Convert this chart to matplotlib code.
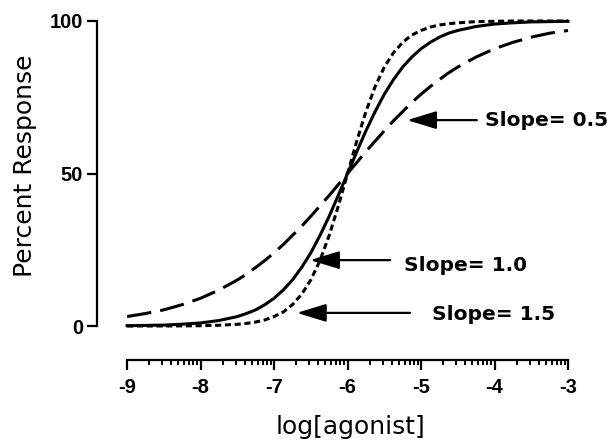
import matplotlib
matplotlib.use("Agg")
import matplotlib.pyplot as plt
import matplotlib.ticker as tck
import numpy as np

# Values (percent response vs log[agonist]).
log_agonist = [-9.0, -8.75, -8.5, -8.25, -8.0, -7.75, -7.5, -7.375, -7.25, -7.125,
               -7.0, -6.875, -6.75, -6.625, -6.5, -6.375, -6.25, -6.125, -6.0,
               -5.875, -5.75, -5.625, -5.5, -5.375, -5.25, -5.125, -5.0,
               -4.875, -4.75, -4.625, -4.5, -4.25, -4.0, -3.75, -3.5, -3.25, -3.0]
resp_slope_05 = [3.1, 4.1, 5.3, 7.0, 9.1, 11.8, 15.1, 17.0, 19.2, 21.5,
                 24.0, 26.7, 29.7, 32.7, 36.0, 39.4, 42.8, 46.4, 50.0,
                 53.6, 57.2, 60.6, 64.0, 67.3, 70.3, 73.3, 76.0,
                 78.5, 80.8, 83.0, 84.9, 88.2, 90.9, 93.0, 94.7, 96.0, 96.9]
resp_slope_10 = [0.1, 0.2, 0.3, 0.6, 1.0, 1.8, 3.1, 4.1, 5.3, 7.0,
                 9.1, 11.8, 15.1, 19.2, 24.0, 29.7, 36.0, 42.9, 50.0,
                 57.1, 64.0, 70.3, 76.0, 80.8, 84.9, 88.2, 90.9,
                 93.0, 94.7, 96.0, 96.9, 98.2, 99.0, 99.4, 99.7, 99.8, 99.9]
resp_slope_15 = [0.0, 0.0, 0.0, 0.04, 0.1, 0.24, 0.56, 0.86, 1.3, 2.0,
                 3.1, 4.6, 7.0, 10.4, 15.1, 21.5, 29.7, 39.4, 50.0,
                 60.6, 70.3, 78.5, 84.9, 89.6, 93.0, 95.4, 96.9,
                 98.0, 98.7, 99.1, 99.4, 99.8, 99.9, 100.0, 100.0, 100.0, 100.0]
x_ticks = [-9, -8, -7, -6, -5, -4, -3]
y_ticks = [0, 50, 100]

fig = plt.figure(figsize=(6.09, 4.41), dpi=100)
ax = fig.add_axes([97 / 609, 1 - 326 / 441, 471 / 609, 305 / 441])

lw = 2.2
ax.plot(log_agonist, resp_slope_05, color="black", lw=lw, dashes=(8, 3), clip_on=False)
ax.plot(log_agonist, resp_slope_10, color="black", lw=lw, clip_on=False)
ax.plot(log_agonist, resp_slope_15, color="black", lw=lw, dashes=(2, 1.2), clip_on=False)

ax.set_xlim(-9.41, -3)
ax.set_ylim(0, 100)

# Spines: left axis plain, bottom axis pushed down and limited to the data range
for side in ("top", "right"):
    ax.spines[side].set_visible(False)
ax.spines["left"].set_linewidth(1.6)
ax.spines["bottom"].set_linewidth(1.6)
ax.spines["bottom"].set_position(("outward", 24.5))
ax.spines["bottom"].set_bounds(-9, -3)

ax.set_xticks(x_ticks)
ax.set_yticks(y_ticks)
minor = [m + np.log10(k) for m in x_ticks[:-1] for k in range(2, 10)]
ax.xaxis.set_minor_locator(tck.FixedLocator(minor))

tick_font = dict(family="Liberation Sans", weight="bold", size=14.5)
ax.set_xticklabels([str(t) for t in x_ticks], fontdict=tick_font)
ax.set_yticklabels([str(t) for t in y_ticks], fontdict=tick_font)
ax.tick_params(axis="both", which="major", direction="out", length=7, width=1.6, color="black")
ax.tick_params(axis="x", which="major", pad=6)
ax.tick_params(axis="y", which="major", pad=3)
ax.tick_params(axis="x", which="minor", direction="out", length=3.5, width=1.4)

label_font = dict(family="DejaVu Sans", size=18)
fig.text(25 / 609, 1 - 166 / 441, "Percent Response", rotation=90,
         ha="center", va="center", **label_font)
fig.text(351 / 609, 1 - 427 / 441, "log[agonist]", ha="center", va="center", **label_font)

# Arrows with slope labels
arrow_props = dict(arrowstyle="-|>,head_length=1.8,head_width=0.55", color="black",
                   lw=1.6, shrinkA=0, shrinkB=0)
annots = [
    ("Slope= 0.5", (-5.19, 67.5), (-4.24, 67.5), (-4.13, 65.6)),
    ("Slope= 1.0", (-6.51, 21.6), (-5.42, 21.6), (-5.23, 18.0)),
    ("Slope= 1.5", (-6.69, 4.3), (-5.15, 4.3), (-4.85, 2.0)),
]
for text, tip, tail, pos in annots:
    ax.annotate("", xy=tip, xytext=tail, arrowprops=arrow_props, annotation_clip=False)
    ax.text(pos[0], pos[1], text, ha="left", va="baseline", family="DejaVu Sans",
            weight="bold", size=14.5, clip_on=False)

fig.savefig("out.png", dpi=100)
